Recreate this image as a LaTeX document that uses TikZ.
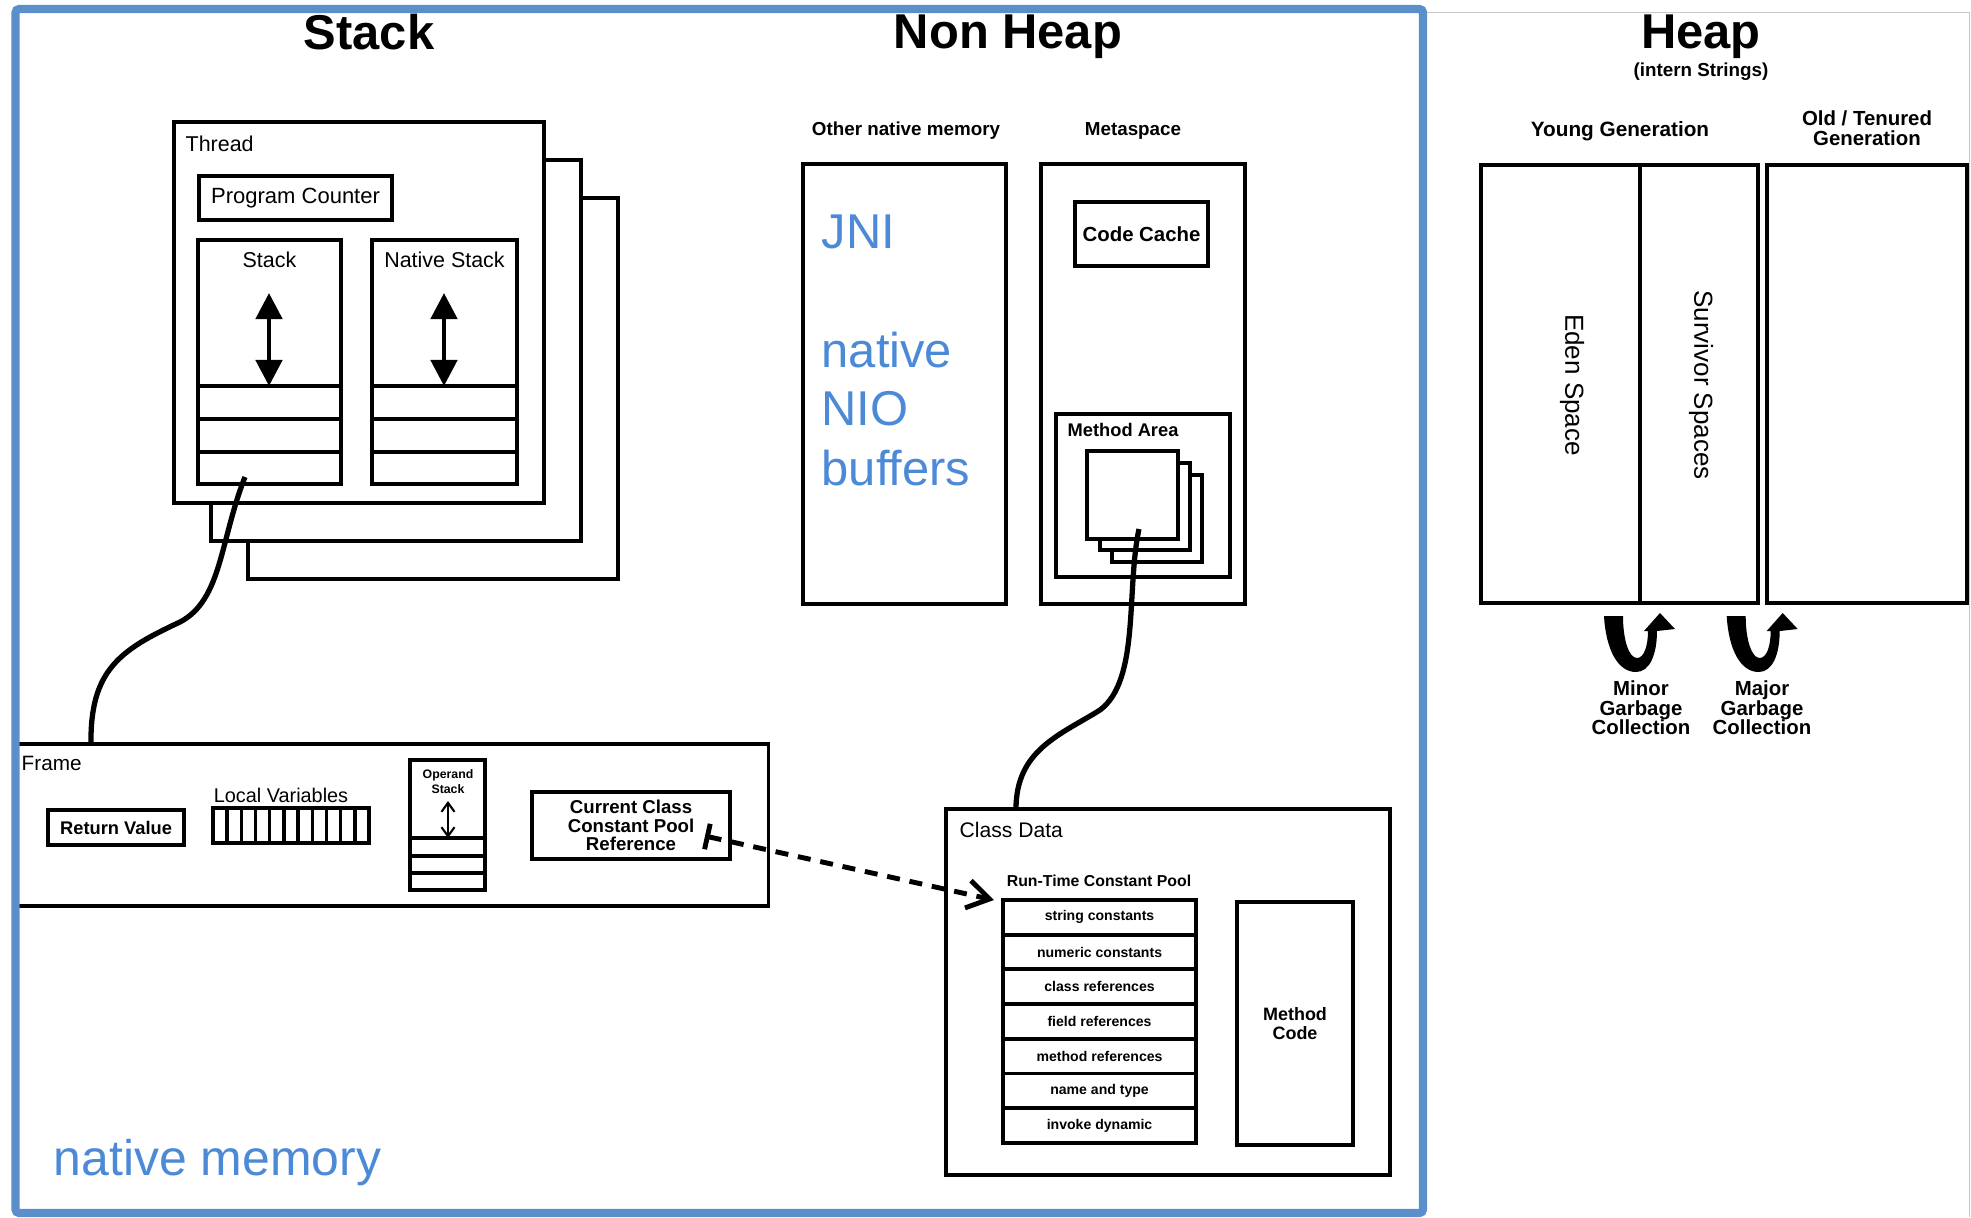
\documentclass[tikz,border=0pt]{standalone}
\usepackage{fontspec}
\setmainfont{Liberation Sans}
\usetikzlibrary{arrows.meta}
\definecolor{nativeblue}{RGB}{91,143,201}
\definecolor{noteblue}{RGB}{76,138,215}
\definecolor{heapgray}{RGB}{200,200,200}

\begin{document}
\begin{tikzpicture}[x=0.01cm,y=-0.01cm]
\tikzstyle{box}=[draw,line width=1.1pt,inner sep=0pt,outer sep=0pt,anchor=north west,fill=white]
\tikzstyle{titletext}=[inner sep=0pt,anchor=base,font=\bfseries\fontsize{13.9}{16}\selectfont]
\tikzstyle{bluenote}=[inner sep=0pt,anchor=base west,text=noteblue,font=\fontsize{13.9}{16}\selectfont]
\tikzstyle{smalltext}=[inner sep=0pt,font=\fontsize{6.1}{7}\selectfont]
\tikzstyle{smallbold}=[inner sep=0pt,font=\bfseries\fontsize{5.35}{6}\selectfont]
\tikzstyle{wire}=[line width=1.5pt]
\tikzstyle{growarrow}=[line width=1.34pt,{Triangle[length=2.6mm,width=2.6mm]}-{Triangle[length=2.6mm,width=2.6mm]}]
\useasboundingbox (0,0) rectangle (1971,1217);

% titles
\node[titletext] (tstack) at (369,49) {Stack};
\node[titletext] (tnonheap) at (1008,48) {Non Heap};
\node[titletext] (theap) at (1701,48) {Heap};
\node[smallbold,anchor=base] (intern) at (1701,76) {(intern Strings)};

% threads
\node[box,minimum width=3.70cm,minimum height=3.81cm] (thread3) at (248,198) {};
\node[box,minimum width=3.70cm,minimum height=3.81cm] (thread2) at (211,160) {};
\node[box,minimum width=3.70cm,minimum height=3.81cm] (thread) at (174,122) {};
\node[smalltext,anchor=base west] (threadlbl) at (185,151) {Thread};
\node[box,minimum width=1.93cm,minimum height=0.44cm,font=\fontsize{6.26}{7}\selectfont] (pc) at (199,176) {Program Counter};
\node[box,minimum width=1.43cm,minimum height=2.44cm] (stk) at (198,240) {};
\node[box,minimum width=1.45cm,minimum height=2.44cm] (nstk) at (372,240) {};
\node[smalltext,anchor=base] (stklbl) at (269.5,267) {Stack};
\node[smalltext,anchor=base] (nstklbl) at (444.5,267) {Native Stack};
\draw[line width=1.1pt] (198,386) -- (341,386) (198,419) -- (341,419) (198,452) -- (341,452);
\draw[line width=1.1pt] (372,386) -- (517,386) (372,419) -- (517,419) (372,452) -- (517,452);
\draw[growarrow] (269,293) -- (269,386);
\draw[growarrow] (444,293) -- (444,386);

% frame
\node[box,minimum width=7.51cm,minimum height=1.62cm] (frame) at (17,744) {};
\node[smalltext,anchor=base west,font=\fontsize{5.9}{7}\selectfont] (framelbl) at (21,770) {Frame};
\node[box,minimum width=1.36cm,minimum height=0.35cm,font=\bfseries\fontsize{5.2}{6}\selectfont] (retval) at (48,810) {Return Value};
\node[smalltext,anchor=base,font=\fontsize{5.65}{6}\selectfont] (localslbl) at (281,802) {Local Variables};
\node[box,minimum width=1.56cm,minimum height=0.35cm] (locals) at (213,808) {};
\foreach \i in {1,...,10} \draw[line width=1pt] (213+\i*14.18,808) -- (213+\i*14.18,843);
\node[box,minimum width=0.75cm,minimum height=1.30cm] (opstack) at (410,760) {};
\node[inner sep=0pt,align=center,font=\bfseries\fontsize{3.5}{3.1}\selectfont] (oplbl) at (448,782) {Operand\\Stack};
\draw[line width=1.1pt] (410,838) -- (485,838) (410,856) -- (485,856) (410,873) -- (485,873);
\draw[line width=0.6pt,{Straight Barb[length=0.9mm,width=1.3mm]}-{Straight Barb[length=0.9mm,width=1.3mm]}] (448,801) -- (448,838);
\node[box,minimum width=1.98cm,minimum height=0.67cm,align=center,font=\bfseries\fontsize{5.3}{5.3}\selectfont] (ccref) at (532,792) {Current Class\\Constant Pool\\Reference};

% class data
\node[box,minimum width=4.44cm,minimum height=3.66cm] (cdata) at (946,809) {};
\node[smalltext,anchor=base west,font=\fontsize{6}{7}\selectfont] (cdatalbl) at (959,837) {Class Data};
\node[inner sep=0pt,anchor=base,font=\bfseries\fontsize{4.5}{5}\selectfont] (rtcplbl) at (1099,886) {Run-Time Constant Pool};
\foreach \t [count=\i] in {string constants,numeric constants,class references,field references,method references,name and type,invoke dynamic}
  \node[box,minimum width=1.93cm,minimum height=0.347cm,font=\bfseries\fontsize{4}{5}\selectfont] (pool\i) at (1003,{900+34.7*(\i-1)}) {\t};
\node[box,minimum width=1.16cm,minimum height=2.43cm,align=center,font=\bfseries\fontsize{5.1}{5.2}\selectfont] (mcode) at (1237,902) {Method\\Code};

% non heap
\node[smallbold,anchor=base] (onmlbl) at (906,135) {Other native memory};
\node[smallbold,anchor=base] (metalbl) at (1133,135) {Metaspace};
\node[box,minimum width=2.03cm,minimum height=4.40cm] (onm) at (803,164) {};
\node[bluenote] (jni) at (821,248) {JNI};
\node[bluenote] (native) at (821,367) {native};
\node[bluenote] (nio) at (821,425) {NIO};
\node[bluenote] (buffers) at (821,485) {buffers};
\node[box,minimum width=2.04cm,minimum height=4.40cm] (meta) at (1041,164) {};
\node[box,minimum width=1.33cm,minimum height=0.64cm,font=\bfseries\fontsize{5.8}{7}\selectfont] (ccache) at (1075,202) {Code Cache};
\node[box,minimum width=1.74cm,minimum height=1.63cm] (marea) at (1056,414) {};
\node[inner sep=0pt,anchor=base west,font=\bfseries\fontsize{5.2}{6}\selectfont] (marealbl) at (1067,436) {Method Area};
\node[box,minimum width=0.90cm,minimum height=0.87cm] (cls3) at (1112,475) {};
\node[box,minimum width=0.90cm,minimum height=0.87cm] (cls2) at (1100,463) {};
\node[box,minimum width=0.91cm,minimum height=0.88cm] (cls) at (1087,451) {};

% heap
\node[smallbold,anchor=base,font=\bfseries\fontsize{5.9}{6}\selectfont] (younglbl) at (1620,136) {Young Generation};
\node[inner sep=0pt,align=center,font=\bfseries\fontsize{5.8}{5.8}\selectfont] (oldlbl) at (1867,128) {Old / Tenured\\Generation};
\node[box,minimum width=2.77cm,minimum height=4.38cm] (young) at (1481,165) {};
\draw[line width=1.1pt] (1640,165) -- (1640,603);
\node[box,minimum width=2.00cm,minimum height=4.38cm] (old) at (1767,165) {};
\node[inner sep=0pt,rotate=-90,font=\fontsize{7.4}{8}\selectfont] (eden) at (1572,385) {Eden Space};
\node[inner sep=0pt,rotate=-90,font=\fontsize{7.4}{8}\selectfont] (surv) at (1701,385) {Survivor Spaces};
\foreach \dx in {0,122.7}
  \fill[shift={(\dx,0)}] (1604,616) .. controls (1606,650) and (1618,672) .. (1636,672) .. controls (1650,672) and (1657,654) .. (1657,631) -- (1675,629) -- (1660,613) -- (1644,631) -- (1648,631) .. controls (1648,646) and (1644,658) .. (1637,658) .. controls (1629,658) and (1623,640) .. (1623,616) -- cycle;
\node[inner sep=0pt,align=center,font=\bfseries\fontsize{5.8}{5.55}\selectfont] (minor) at (1641,708) {Minor\\Garbage\\Collection};
\node[inner sep=0pt,align=center,font=\bfseries\fontsize{5.8}{5.55}\selectfont] (major) at (1762,708) {Major\\Garbage\\Collection};

% links
\coordinate (stkref) at (245,477);
\coordinate (frtop) at (91,744);
\draw[wire] (stkref) .. controls (220,540) and (222,600) .. (180,622) .. controls (120,650) and (90,670) .. (frtop);
\coordinate (clsref) at (1139,529);
\coordinate (cdtop) at (1016,809);
\draw[wire] (clsref) .. controls (1126,590) and (1140,680) .. (1100,710) .. controls (1060,735) and (1016,750) .. (cdtop);
\coordinate (ccp) at (705,836);
\draw[line width=1.4pt,dash pattern=on 3.7pt off 2.8pt,{Bar[width=2.6mm]}-{Straight Barb[length=2.2mm,width=2.8mm]}] (ccp) -- ([xshift=-0.9mm]pool1.north west);

% borders
\draw[heapgray,line width=0.5pt] (1423,12.5) -- (1969.5,12.5) -- (1969.5,1217);
\draw[nativeblue,line width=2.3pt,rounded corners=1pt] (15.5,9) rectangle (1423,1213);
\node[bluenote,font=\fontsize{14.2}{16}\selectfont] (nmem) at (53,1175) {native memory};
\end{tikzpicture}
\end{document}
